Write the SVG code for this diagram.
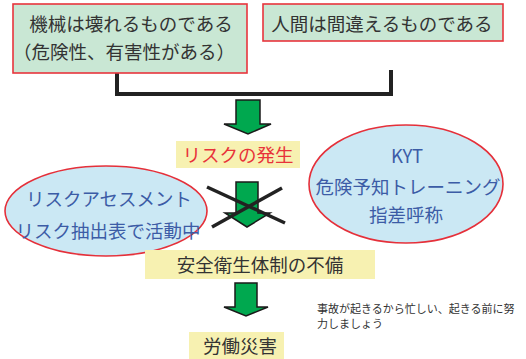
<svg xmlns="http://www.w3.org/2000/svg" width="526" height="359" viewBox="0 0 526 359">
<style>
text{font-family:"Noto Sans CJK JP","Noto Sans",sans-serif;text-anchor:middle}
.gbox{fill:#c9e7d4;stroke:#e8353c;stroke-width:1.6}
.ybox{fill:#f7f1b1;stroke:none}
.ell{fill:#cbe8f4;stroke:#e5303a;stroke-width:1.6}
.dark{fill:#333333;font-size:18.5px}
.blue{fill:#3c5ca6;font-size:18.5px}
.red{fill:#e8333a;font-size:18.5px}
.arrow{fill:#00a84f;stroke:#1a1a1a;stroke-width:1.5;stroke-linejoin:miter}
.conn{fill:none;stroke:#222222;stroke-width:4}
.cross{stroke:#222222;stroke-width:3.5;stroke-linecap:butt}
.note{fill:#333333;font-size:11px;text-anchor:start}
</style>
<g id="connectors">
<polyline class="conn" points="117,73 117,94 391,94 391,70"/>
<polygon class="arrow" points="236,100 260,100 260,124 271,124 248,134 224,124 236,124"/>
<polygon class="arrow" points="236,182 258,182 258,213 270,213 247,227 225,213 236,213"/>
<polygon class="arrow" points="235,283 257,283 257,307 268,307 246,316 224,307 235,307"/>
<line class="cross" x1="207" y1="187" x2="285" y2="223"/>
<line class="cross" x1="212" y1="227" x2="282" y2="188"/>
</g>
<g id="node-machine">
<rect class="gbox" x="13" y="4" width="234" height="69"/>
<text class="dark" x="131" y="31">機械は壊れるものである</text>
<text class="dark" x="124" y="59">（危険性、有害性がある）</text>
</g>
<g id="node-human">
<rect class="gbox" x="263" y="4" width="240" height="37"/>
<text class="dark" x="382" y="31">人間は間違えるものである</text>
</g>
<g id="node-risk">
<rect class="ybox" x="176" y="141" width="124" height="27"/>
<text class="red" x="238" y="162">リスクの発生</text>
</g>
<g id="node-assessment">
<ellipse class="ell" cx="106" cy="211" rx="101" ry="45"/>
<text class="blue" x="109" y="206">リスクアセスメント</text>
<text class="blue" x="108" y="238">リスク抽出表で活動中</text>
</g>
<g id="node-kyt">
<ellipse class="ell" cx="406" cy="184" rx="97" ry="59"/>
<text class="blue" x="407" y="163">KYT</text>
<text class="blue" x="408" y="194">危険予知トレーニング</text>
<text class="blue" x="406" y="222">指差呼称</text>
</g>
<g id="node-system">
<rect class="ybox" x="145" y="250" width="230" height="29"/>
<text class="dark" x="260" y="272">安全衛生体制の不備</text>
</g>
<g id="node-accident">
<rect class="ybox" x="189" y="332" width="95" height="27"/>
<text class="dark" x="240" y="353">労働災害</text>
</g>
<g id="note">
<text class="note" x="317" y="313">事故が起きるから忙しい、起きる前に努</text>
<text class="note" x="317" y="328">力しましょう</text>
</g>
</svg>
